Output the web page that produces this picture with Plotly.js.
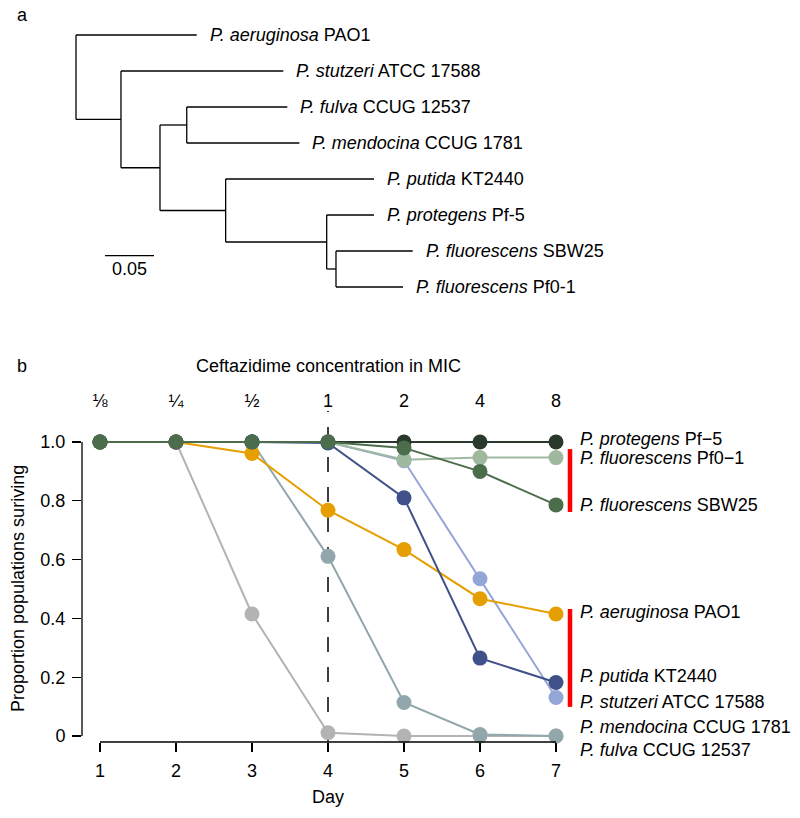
<!DOCTYPE html>
<html>
<head>
<meta charset="utf-8">
<script src="https://cdn.plot.ly/plotly-3.0.1.min.js"></script>
<style>
  body { margin: 0; background: #fff; }
  #chart { width: 800px; height: 818px; }
</style>
</head>
<body>
<div id="chart"></div>
<script>
// ---- panel a: tree (branch lengths, root at 0) ----
const nodeParent = [-1, 0, 0, 2, 2, 4, 5, 5, 4, 8, 8, 10, 10, 12, 12];
const nodeDepth = [0, 0.1232, 0.0459, 0.2115, 0.0857, 0.1130, 0.2156, 0.2279,
                   0.1527, 0.3041, 0.2558, 0.3041, 0.2653, 0.3436, 0.3337];
// tips in plotting order (top to bottom) -> node index
const tipNodes = [1, 3, 6, 7, 9, 11, 13, 14];
const tipSpecies = ['P. aeruginosa', 'P. stutzeri', 'P. fulva', 'P. mendocina',
                    'P. putida', 'P. protegens', 'P. fluorescens', 'P. fluorescens'];
const tipStrain = ['PAO1', 'ATCC 17588', 'CCUG 12537', 'CCUG 1781',
                   'KT2440', 'Pf-5', 'SBW25', 'Pf0-1'];
const scaleBarLength = 0.05;

// ---- panel b: survival ----
const days = [1, 2, 3, 4, 5, 6, 7];
const concLabels = ['⅛', '¼', '½', '1', '2', '4', '8'];
const yTicks = [0, 0.2, 0.4, 0.6, 0.8, 1.0];
const yTickText = ['0', '0.2', '0.4', '0.6', '0.8', '1.0'];

const fulva     = [1, 1, 0.415, 0.011, 0, 0, 0];
const mendocina = [1, 1, 1, 0.611, 0.114, 0.005, 0];
const stutzeri  = [1, 1, 1, 1, 0.936, 0.535, 0.131];
const pf01      = [1, 1, 1, 1, 0.94, 0.947, 0.947];
const protegens = [1, 1, 1, 1, 1, 1, 1];
const aeruginosa = [1, 1, 0.961, 0.768, 0.634, 0.467, 0.415];
const putida    = [1, 1, 1, 0.997, 0.81, 0.265, 0.182];
const sbw25     = [1, 1, 1, 1, 0.98, 0.90, 0.786];

const seriesNames = ['fulva', 'mendocina', 'stutzeri', 'Pf0-1', 'protegens', 'aeruginosa', 'putida', 'SBW25'];
const seriesValues = [fulva, mendocina, stutzeri, pf01, protegens, aeruginosa, putida, sbw25];
const seriesColors = ['#b3b3b3', '#91a7ab', '#94a6d6', '#9fb99f', '#29392c', '#e69f00', '#3f5188', '#4b6d4b'];

// right-hand labels (nudged apart like the original)
const endSpecies = ['P. protegens', 'P. fluorescens', 'P. fluorescens', 'P. aeruginosa',
                    'P. putida', 'P. stutzeri', 'P. mendocina', 'P. fulva'];
const endStrain = ['Pf−5', 'Pf0−1', 'SBW25', 'PAO1', 'KT2440', 'ATCC 17588', 'CCUG 1781', 'CCUG 12537'];
const endLabelY = [1.01, 0.945, 0.786, 0.422, 0.204, 0.116, 0.031, -0.048];
const brackets = [[0.762, 0.976], [0.099, 0.432]];

const W = 800, H = 818;
const px = x => x / W;
const py = y => 1 - y / H;
const FONT = 'Liberation Sans, Arial, sans-serif';
const FS = 18;

// tree geometry
const children = nodeDepth.map(() => []);
nodeParent.forEach((p, i) => { if (p >= 0) children[p].push(i); });
const rowOf = {};
tipNodes.forEach((n, i) => { rowOf[n] = i + 1; });
function nodeRow(n) {
  if (rowOf[n] !== undefined) return rowOf[n];
  const rows = children[n].map(nodeRow);
  rowOf[n] = (Math.min(...rows) + Math.max(...rows)) / 2;
  return rowOf[n];
}
nodeRow(0);

const tx = [], ty = [];
nodeParent.forEach((p, n) => {
  if (p >= 0) {
    tx.push(nodeDepth[p], nodeDepth[n], null);
    ty.push(rowOf[n], rowOf[n], null);
  }
  if (children[n].length) {
    const rows = children[n].map(c => rowOf[c]);
    tx.push(nodeDepth[n], nodeDepth[n], null);
    ty.push(Math.min(...rows), Math.max(...rows), null);
  }
});

const traces = [];
traces.push({
  x: tx, y: ty, xaxis: 'x2', yaxis: 'y2',
  type: 'scatter', mode: 'lines',
  line: { color: '#000', width: 1.3 },
  hoverinfo: 'skip', showlegend: false
});
// scale bar
const sbX = 0.0296, sbRow = 7.13;
traces.push({
  x: [sbX, sbX + scaleBarLength], y: [sbRow, sbRow], xaxis: 'x2', yaxis: 'y2',
  type: 'scatter', mode: 'lines',
  line: { color: '#000', width: 1.3 },
  hoverinfo: 'skip', showlegend: false
});

seriesValues.forEach((vals, i) => {
  traces.push({
    x: days, y: vals, name: seriesNames[i],
    type: 'scatter', mode: 'lines+markers',
    line: { color: seriesColors[i], width: 2 },
    marker: { color: seriesColors[i], size: 15 },
    cliponaxis: false, showlegend: false, hoverinfo: 'skip'
  });
});

// panel b axes
const xRange = [1 - 18 / 76, 7 + 18 / 76];
const yRange = [-6 / 294, 1 + 28 / 294];
const yDomain = [py(742), py(414)];
const yToPaper = v => yDomain[0] + (v - yRange[0]) / (yRange[1] - yRange[0]) * (yDomain[1] - yDomain[0]);

const annotations = [];
tipNodes.forEach((n, i) => {
  annotations.push({
    xref: 'x2', yref: 'y2', x: nodeDepth[n], y: rowOf[n],
    xanchor: 'left', yanchor: 'middle', xshift: 11, showarrow: false,
    text: '<i>' + tipSpecies[i] + '</i> ' + tipStrain[i],
    font: { family: FONT, size: FS, color: '#000' }
  });
});
annotations.push({
  xref: 'x2', yref: 'y2', x: sbX + scaleBarLength / 2, y: 7.5,
  xanchor: 'center', yanchor: 'middle', showarrow: false,
  text: String(scaleBarLength), font: { family: FONT, size: FS, color: '#000' }
});
endSpecies.forEach((s, i) => {
  annotations.push({
    xref: 'paper', yref: 'paper', x: px(578), y: yToPaper(endLabelY[i]),
    xanchor: 'left', yanchor: 'middle', showarrow: false,
    text: '<i>' + s + '</i> ' + endStrain[i],
    font: { family: FONT, size: FS, color: '#000' }
  });
});
annotations.push(
  { xref: 'paper', yref: 'paper', x: px(22), y: py(15), text: 'a', showarrow: false,
    xanchor: 'center', yanchor: 'middle', font: { family: FONT, size: FS, color: '#000' } },
  { xref: 'paper', yref: 'paper', x: px(22), y: py(366), text: 'b', showarrow: false,
    xanchor: 'center', yanchor: 'middle', font: { family: FONT, size: FS, color: '#000' } },
  { xref: 'paper', yref: 'paper', x: px(328), y: py(366), text: 'Ceftazidime concentration in MIC',
    showarrow: false, xanchor: 'center', yanchor: 'middle', font: { family: FONT, size: FS, color: '#000' } },
  { xref: 'paper', yref: 'paper', x: px(328), y: py(797), text: 'Day',
    showarrow: false, xanchor: 'center', yanchor: 'middle', font: { family: FONT, size: FS, color: '#000' } },
  { xref: 'paper', yref: 'y', x: px(18), y: 0.5, text: 'Proportion populations suriving', textangle: -90,
    showarrow: false, xanchor: 'center', yanchor: 'middle', font: { family: FONT, size: FS, color: '#000' } }
);

const shapes = [
  // axis lines, R style (only between first and last tick)
  { type: 'line', xref: 'x domain', x0: 0, x1: 0, yref: 'y', y0: yTicks[0], y1: yTicks[yTicks.length - 1],
    line: { color: '#000', width: 1.3 } },
  { type: 'line', xref: 'x', x0: days[0], x1: days[days.length - 1], yref: 'y domain', y0: 0, y1: 0,
    line: { color: '#000', width: 1.3 } },
  // MIC marker
  { type: 'line', xref: 'x', x0: 4, x1: 4, yref: 'paper', y0: py(742), y1: py(411),
    line: { color: '#000', width: 1.5, dash: '15px,15px' }, layer: 'below' }
];
brackets.forEach(b => {
  shapes.push({ type: 'line', xref: 'paper', x0: px(570), x1: px(570), yref: 'y', y0: b[0], y1: b[1],
    line: { color: '#ff0000', width: 4.5 } });
});

const layout = {
  width: W, height: H,
  margin: { l: 0, r: 0, t: 0, b: 0 },
  paper_bgcolor: '#fff', plot_bgcolor: '#fff',
  font: { family: FONT, size: FS, color: '#000' },
  showlegend: false, hovermode: false,
  xaxis: {
    domain: [px(82), px(574)], range: xRange, anchor: 'y',
    tickvals: days, ticktext: days.map(String),
    ticks: 'outside', ticklen: 9, tickwidth: 1.3, tickcolor: '#000', ticklabelstandoff: 3,
    showline: false, showgrid: false, zeroline: false,
    tickfont: { family: FONT, size: FS, color: '#000' }
  },
  xaxis3: {
    overlaying: 'x', side: 'top', anchor: 'y', range: xRange,
    tickvals: days, ticktext: concLabels, ticks: '', ticklabelstandoff: 2,
    showline: false, showgrid: false, zeroline: false,
    tickfont: { family: FONT, size: FS, color: '#000' }
  },
  yaxis: {
    domain: yDomain, range: yRange, anchor: 'x',
    tickvals: yTicks, ticktext: yTickText,
    ticks: 'outside', ticklen: 9, tickwidth: 1.3, tickcolor: '#000', ticklabelstandoff: 3,
    showline: false, showgrid: false, zeroline: false,
    tickfont: { family: FONT, size: FS, color: '#000' }
  },
  xaxis2: {
    domain: [0, 1], anchor: 'y2', range: [-76 / 980, 724 / 980], visible: false
  },
  yaxis2: {
    domain: [py(310), 1], anchor: 'x2', range: [1 + 275 / 36, 1 - 35 / 36], visible: false
  },
  annotations: annotations,
  shapes: shapes
};

// top axis needs a (dummy) trace to be drawn
traces.push({ x: [days[0]], y: [null], xaxis: 'x3', yaxis: 'y', type: 'scatter', mode: 'markers',
  showlegend: false, hoverinfo: 'skip' });

Plotly.newPlot('chart', traces, layout, { staticPlot: true });
</script>
</body>
</html>
